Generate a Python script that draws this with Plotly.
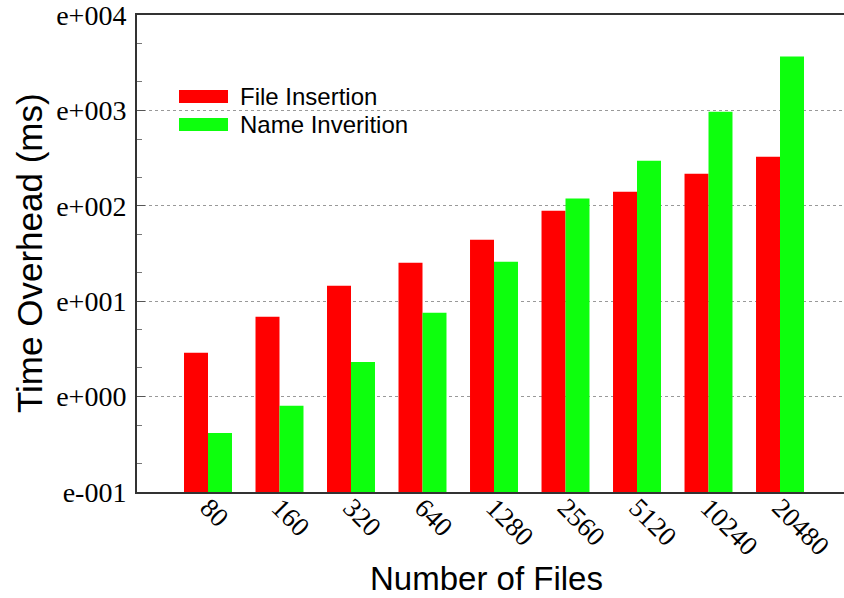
import plotly.graph_objects as go

# Number of files per run (category axis)
file_counts = ["80", "160", "320", "640", "1280", "2560", "5120", "10240", "20480"]

# Measured time overhead in milliseconds
file_insertion = [2.88, 6.86, 14.5, 25.3, 44.0, 89.0, 140.0, 217.0, 327.0]
name_inverition = [0.416, 0.80, 2.31, 7.55, 25.9, 119.0, 297.0, 971.0, 3665.0]

series_names = ["File Insertion", "Name Inverition"]
series_colors = ["#ff0000", "#0dff0d"]

# Log-axis tick labels
y_tickvals = [0.1, 1, 10, 100, 1000, 10000]
y_ticktext = ["e-001", "e+000", "e+001", "e+002", "e+003", "e+004"]
minor_vals = [m * 10 ** e for e in range(-1, 4) for m in (2, 5)]

W, H = 844, 598
L, R, T, B = 137, 0, 15, 106
pw, ph = W - L - R, H - T - B

fig = go.Figure()
for name, vals, col in zip(series_names, [file_insertion, name_inverition], series_colors):
    fig.add_trace(go.Bar(x=file_counts, y=vals, name=name, marker=dict(color=col, line=dict(width=0)),
                         showlegend=False))

serif = "Liberation Serif, Times New Roman, serif"
sans = "Liberation Sans, Arial, Helvetica, sans-serif"

fig.update_layout(
    width=W, height=H,
    margin=dict(l=L, r=R, t=T, b=B, autoexpand=False),
    paper_bgcolor="white", plot_bgcolor="white",
    barmode="group", bargap=0.329, bargroupgap=0,
    xaxis=dict(
        type="category", range=[-0.993, 8.895],
        showline=True, linecolor="#333333", linewidth=2, mirror=True,
        ticks="", showgrid=False, tickangle=45,
        ticklabelstandoff=-13,
        tickfont=dict(family=serif, size=27, color="black"),
    ),
    yaxis=dict(
        type="log", range=[-1.0003, 4.0003],
        tickvals=y_tickvals, ticktext=y_ticktext,
        showline=True, linecolor="#333333", linewidth=2,
        ticks="inside", ticklen=8, tickcolor="#555555", tickwidth=1,
        ticklabelstandoff=3, ticklabeloverflow="allow",
        showgrid=True, gridcolor="#999999", griddash="dot", gridwidth=1,
        zeroline=False,
        tickfont=dict(family=serif, size=28, color="black"),
        minor=dict(tickvals=minor_vals, ticks="inside", ticklen=5, tickcolor="#777777", showgrid=False),
    ),
)

# Axis titles
fig.add_annotation(text="Number of Files", xref="paper", yref="paper",
                   x=(486 - L) / pw, y=(H - B - 578) / ph, xanchor="center", yanchor="middle",
                   showarrow=False, font=dict(family=sans, size=33, color="black"))
fig.add_annotation(text="Time Overhead (ms)", xref="paper", yref="paper", textangle=-90,
                   x=(29 - L) / pw, y=(H - B - 253) / ph, xanchor="center", yanchor="middle",
                   showarrow=False, font=dict(family=sans, size=35, color="black"))

# Legend: wide colour swatches with labels
legend_rows = [(96.5, series_names[0], series_colors[0]), (124.5, series_names[1], series_colors[1])]
for yc, label, col in legend_rows:
    fig.add_shape(type="rect", xref="paper", yref="paper",
                  x0=(179 - L) / pw, x1=(228 - L) / pw,
                  y0=(H - B - (yc + 6.5)) / ph, y1=(H - B - (yc - 6.5)) / ph,
                  fillcolor=col, line=dict(width=0))
    fig.add_annotation(text=label, xref="paper", yref="paper",
                       x=(238 - L) / pw, y=(H - B - yc) / ph, xanchor="left", yanchor="middle",
                       showarrow=False, font=dict(family=sans, size=24, color="black"))

fig.write_html("out.html")
